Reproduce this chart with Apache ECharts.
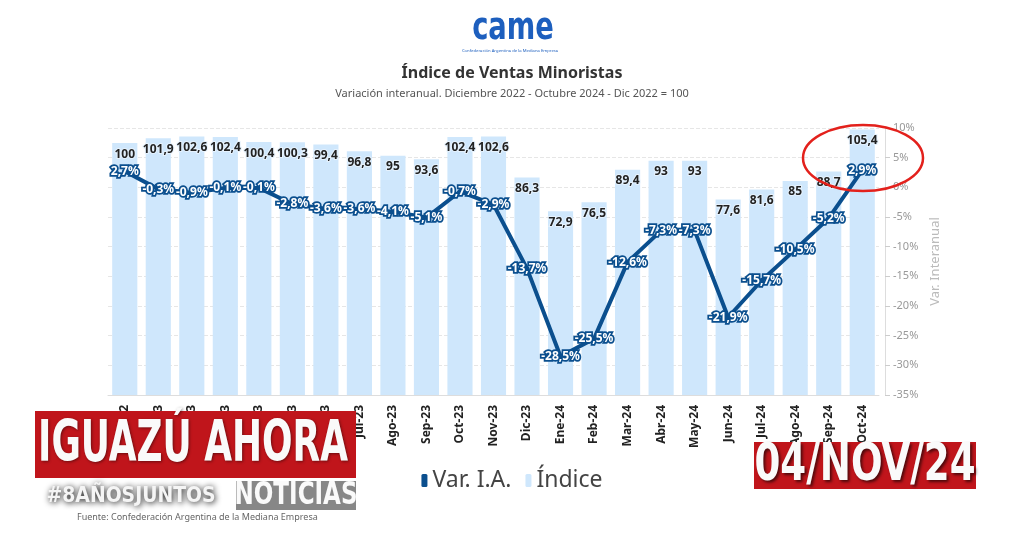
<!DOCTYPE html>
<html><head><meta charset="utf-8">
<script src="https://cdn.jsdelivr.net/npm/echarts@6/dist/echarts.min.js"></script>
<style>html,body{margin:0;padding:0;background:#fff}#c{width:1024px;height:535px}</style>
</head><body><div id="c"></div>
<script>
const categories = ['Dic-22','Ene-23','Feb-23','Mar-23','Abr-23','May-23','Jun-23','Jul-23','Ago-23','Sep-23','Oct-23','Nov-23','Dic-23','Ene-24','Feb-24','Mar-24','Abr-24','May-24','Jun-24','Jul-24','Ago-24','Sep-24','Oct-24'];
const indice = [100,101.9,102.6,102.4,100.4,100.3,99.4,96.8,95,93.6,102.4,102.6,86.3,72.9,76.5,89.4,93,93,77.6,81.6,85,88.7,105.4];
const varIA = [2.7,-0.3,-0.9,-0.1,-0.1,-2.8,-3.6,-3.6,-4.1,-5.1,-0.7,-2.9,-13.7,-28.5,-25.5,-12.6,-7.3,-7.3,-21.9,-15.7,-10.5,-5.2,2.9];

const FONT = '"Noto Sans", "Open Sans", sans-serif';
const COND = '"Liberation Sans Narrow", "DejaVu Sans Condensed", sans-serif';
const comma = v => String(v).replace('.', ',');

const chart = echarts.init(document.getElementById('c'));
chart.setOption({
  animation: false,
  textStyle: { fontFamily: FONT },
  title: {
    left: 'center', top: 60,
    text: 'Índice de Ventas Minoristas',
    subtext: 'Variación interanual. Diciembre 2022 - Octubre 2024 - Dic 2022 = 100',
    itemGap: 7,
    textStyle: { fontFamily: FONT, fontSize: 16, fontWeight: 'bold', color: '#333' },
    subtextStyle: { fontFamily: FONT, fontSize: 11, color: '#555' }
  },
  legend: {
    bottom: 38, left: 'center',
    icon: 'roundRect', itemWidth: 6, itemHeight: 13, itemGap: 14,
    textStyle: { fontFamily: FONT, fontSize: 23, color: '#444' },
    data: ['Var. I.A.', 'Índice']
  },
  grid: { left: 108, right: 145, top: 128, bottom: 140 },
  xAxis: {
    type: 'category', data: categories,
    axisLine: { lineStyle: { color: '#ddd' } },
    axisTick: { alignWithLabel: true, length: 5, lineStyle: { color: '#ccc' } },
    axisLabel: { rotate: 90, fontSize: 12, fontWeight: 'bold', color: '#222', margin: 10 }
  },
  yAxis: [
    { type: 'value', min: 0, max: 106, show: false, splitLine: { show: false } },
    { type: 'value', position: 'right', min: -35, max: 10, interval: 5, offset: 6,
      name: 'Var. Interanual', nameLocation: 'middle', nameGap: 44,
      nameTextStyle: { color: '#bbb', fontSize: 13 },
      axisLine: { show: true, lineStyle: { color: '#ddd' } },
      axisTick: { show: true, length: 5, lineStyle: { color: '#ccc' } },
      axisLabel: { formatter: v => v + '%', color: '#999', fontSize: 11 },
      splitLine: { show: true, lineStyle: { type: 'dashed', color: '#e6e6e6' } }
    }
  ],
  series: [
    { name: 'Índice', type: 'bar', yAxisIndex: 0, data: indice,
      barCategoryGap: '25%',
      itemStyle: { color: '#cfe7fc' },
      label: { show: true, position: 'insideTop', distance: 5, formatter: p => comma(p.value),
        fontSize: 12, fontWeight: 'bold', color: '#222', textBorderColor: '#e6f2fd', textBorderWidth: 2 },
      z: 2
    },
    { name: 'Var. I.A.', type: 'line', yAxisIndex: 1, data: varIA,
      symbol: 'circle', symbolSize: 5,
      lineStyle: { color: '#0b4f8e', width: 4 },
      itemStyle: { color: '#0b4f8e' },
      label: { show: true, position: 'inside', formatter: p => comma(p.value) + '%',
        fontSize: 12, fontWeight: 'bold', color: '#fff', textBorderColor: '#0b4f8e', textBorderWidth: 3.5 },
      z: 5
    }
  ],
  graphic: [
    { type: 'text', x: 513, y: 29, scaleX: 0.72, z: 50,
      style: { text: 'came', font: 'bold 38px "DejaVu Sans", sans-serif', fill: '#1d5fbe', align: 'center', verticalAlign: 'middle' } },
    { type: 'text', x: 510, y: 51, z: 50,
      style: { text: 'Confederación Argentina de la Mediana Empresa', font: '4.2px ' + FONT, fill: '#1d5fbe', align: 'center', verticalAlign: 'middle' } },
    { type: 'ellipse', shape: { cx: 863, cy: 158, rx: 60, ry: 33 }, style: { fill: 'none', stroke: '#e3211c', lineWidth: 2.5 }, z: 100 },
    { type: 'rect', shape: { x: 35, y: 411, width: 321, height: 67 }, style: { fill: '#c0151b' }, z: 100 },
    { type: 'text', x: 193, y: 446, scaleX: 0.70, z: 101,
      style: { text: 'IGUAZÚ AHORA', font: 'bold 57px ' + COND, fill: '#fafafa', align: 'center', verticalAlign: 'middle',
        textShadowColor: 'rgba(0,0,0,0.45)', textShadowBlur: 3, textShadowOffsetX: 1, textShadowOffsetY: 1 } },
    { type: 'rect', shape: { x: 236, y: 481, width: 120, height: 29 }, style: { fill: '#878787' }, z: 100 },
    { type: 'text', x: 296, y: 496, scaleX: 0.8, z: 101,
      style: { text: 'NOTICIAS', font: 'bold 32px ' + COND, fill: '#fafafa', align: 'center', verticalAlign: 'middle' } },
    { type: 'text', x: 131, y: 496, scaleX: 0.95, z: 101,
      style: { text: '#8AÑOSJUNTOS', font: 'bold 22px ' + COND, fill: '#f5f5f5', align: 'center', verticalAlign: 'middle',
        textShadowColor: '#000', textShadowBlur: 6, textShadowOffsetX: 1, textShadowOffsetY: 1 } },
    { type: 'text', x: 77, y: 513, z: 101,
      style: { text: 'Fuente: Confederación Argentina de la Mediana Empresa', font: '9px ' + FONT, fill: '#666' } },
    { type: 'rect', shape: { x: 754, y: 442, width: 222, height: 47 }, style: { fill: '#c0151b' }, z: 100 },
    { type: 'text', x: 865, y: 466, scaleX: 0.795, z: 101,
      style: { text: '04/NOV/24', font: 'bold 52px ' + COND, fill: '#fafafa', align: 'center', verticalAlign: 'middle',
        textShadowColor: 'rgba(0,0,0,0.6)', textShadowBlur: 3, textShadowOffsetX: 2, textShadowOffsetY: 2 } }
  ]
});
</script></body></html>
